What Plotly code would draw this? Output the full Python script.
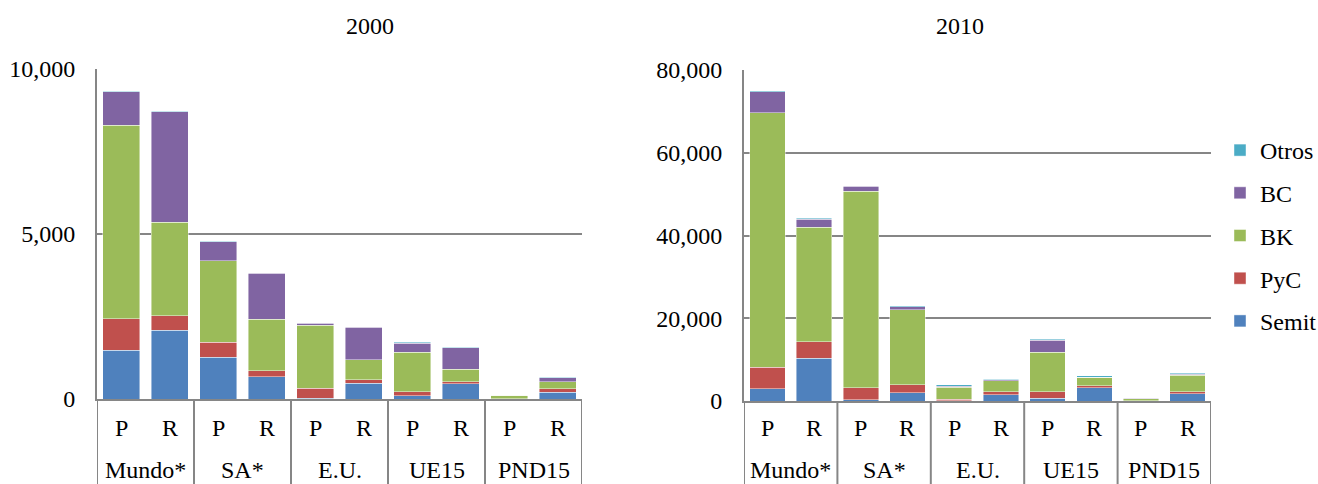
import plotly.graph_objects as go

W, H = 1318, 484

regions = ["Mundo*", "SA*", "E.U.", "UE15", "PND15"]
subs = ["P", "R"]
series = ["Semit", "PyC", "BK", "BC", "Otros"]
colors = ["#4F81BD", "#C0504D", "#9BBB59", "#8064A2", "#4BACC6"]

# order: Mundo P, Mundo R, SA P, SA R, E.U. P, E.U. R, UE15 P, UE15 R, PND15 P, PND15 R
semit_2000 = [1475, 2081, 1263, 677, 20, 485, 100, 464, 0, 212]
pyc_2000 = [958, 444, 464, 181, 304, 101, 121, 60, 5, 100]
bk_2000 = [5861, 2829, 2465, 1556, 1918, 596, 1194, 376, 105, 212]
bc_2000 = [1018, 3352, 575, 1394, 51, 990, 282, 655, 8, 121]
otros_2000 = [20, 20, 20, 15, 15, 10, 30, 10, 3, 10]

semit_2010 = [2903, 10329, 339, 2032, 60, 1524, 726, 3224, 50, 1774]
pyc_2010 = [5249, 3943, 2806, 1935, 400, 654, 1451, 480, 60, 480]
bk_2010 = [61514, 27673, 47508, 18046, 2850, 2662, 9601, 2030, 450, 3950]
bc_2010 = [5080, 1935, 1282, 822, 240, 300, 2902, 60, 120, 320]
otros_2010 = [200, 240, 150, 200, 320, 110, 240, 320, 50, 240]

data_2000 = [semit_2000, pyc_2000, bk_2000, bc_2000, otros_2000]
data_2010 = [semit_2010, pyc_2010, bk_2010, bc_2010, otros_2010]
legend_rank = [5, 4, 3, 2, 1]

y_ticks_2000 = [0, 5000, 10000]
y_ticks_2010 = [0, 20000, 40000, 60000, 80000]

FONT = "Liberation Serif"
FS = 24
GRID = "#868686"

n = len(regions) * len(subs)
xs = list(range(n))

fig = go.Figure()
for name, col, v0, v1, rk in zip(series, colors, data_2000, data_2010, legend_rank):
    fig.add_trace(go.Bar(x=xs, y=v0, name=name, marker_color=col, width=0.76,
                         marker_line=dict(color="rgba(255,255,255,0.55)", width=0.8),
                         legendgroup=name, legendrank=rk, showlegend=True, xaxis="x", yaxis="y"))
    fig.add_trace(go.Bar(x=xs, y=v1, name=name, marker_color=col, width=0.76,
                         marker_line=dict(color="rgba(255,255,255,0.55)", width=0.8),
                         legendgroup=name, legendrank=rk, showlegend=False, xaxis="x2", yaxis="y2"))

def py(pix):
    return (H - pix) / H

def px(pix):
    return pix / W

L1, R1, T1, B1 = 97, 582, 69, 399
L2, R2, T2, B2 = 744, 1211, 70, 401

axis_common = dict(range=[-0.5, n - 0.5], showticklabels=False, showgrid=False,
                   zeroline=False, showline=True, linecolor=GRID, linewidth=2, fixedrange=True)
yaxis_common = dict(showgrid=True, gridcolor=GRID, gridwidth=1.5, zeroline=False,
                    showline=True, linecolor=GRID, linewidth=2, tickformat=",",
                    ticks="", ticklabelstandoff=15, automargin=False,
                    tickfont=dict(family=FONT, size=FS, color="black"))

fig.update_layout(
    width=W, height=H, autosize=False,
    margin=dict(l=0, r=0, t=0, b=0, pad=0, autoexpand=False),
    paper_bgcolor="white", plot_bgcolor="white",
    barmode="stack",
    font=dict(family=FONT, size=FS, color="black"),
    xaxis=dict(domain=[px(L1), px(R1)], anchor="y", **axis_common),
    yaxis=dict(domain=[py(B1), py(T1)], anchor="x", range=[0, 10000], tickvals=y_ticks_2000, **yaxis_common),
    xaxis2=dict(domain=[px(L2), px(R2)], anchor="y2", **axis_common),
    yaxis2=dict(domain=[py(B2), py(T2)], anchor="x2", range=[0, 80000], tickvals=y_ticks_2010, **yaxis_common),
    legend=dict(x=px(1220), y=py(128), xanchor="left", yanchor="top",
                traceorder="grouped", tracegroupgap=8.5,
                font=dict(family=FONT, size=FS, color="black"), bgcolor="rgba(0,0,0,0)"),
    showlegend=True,
)

shapes = []
annotations = []
for xa, ya, B in (("x", "y", B1), ("x2", "y2", B2)):
    for k in range(len(regions) + 1):
        xv = -0.5 + 2 * k
        shapes.append(dict(type="line", xref=xa, yref="paper", x0=xv, x1=xv,
                           y0=0, y1=py(B), line=dict(color=GRID, width=2)))
    for i in range(n):
        annotations.append(dict(text=subs[i % 2], x=i, xref=xa, y=py(428), yref="paper",
                                showarrow=False, yanchor="middle",
                                font=dict(family=FONT, size=FS, color="black")))
    for k, r in enumerate(regions):
        annotations.append(dict(text=r, x=2 * k + 0.5, xref=xa, y=py(470), yref="paper",
                                showarrow=False, yanchor="middle",
                                font=dict(family=FONT, size=FS, color="black")))

annotations.append(dict(text="2000", x=px(344), y=py(26), xref="paper", yref="paper",
                        showarrow=False, yanchor="middle", font=dict(family=FONT, size=FS, color="black")))
annotations.append(dict(text="2010", x=px(986), y=py(26), xref="paper", yref="paper",
                        showarrow=False, yanchor="middle", font=dict(family=FONT, size=FS, color="black")))

fig.update_layout(shapes=shapes, annotations=annotations)

fig.write_html("out.html", config={"displayModeBar": False},
               post_script="document.body.style.margin='0px';document.body.style.overflow='hidden';")
